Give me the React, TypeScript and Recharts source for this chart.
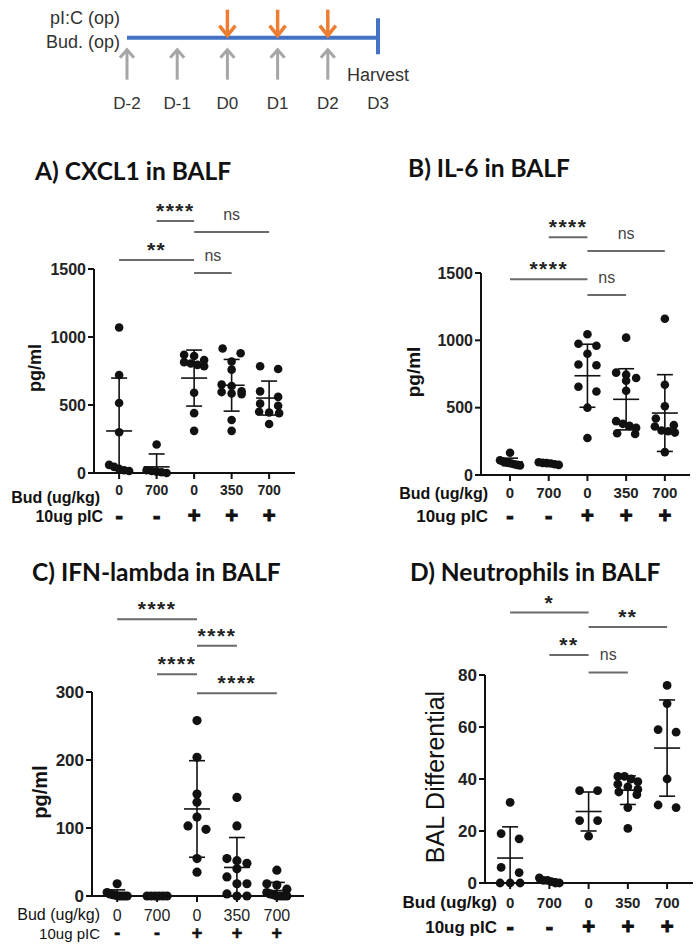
import React from 'react';
import { ScatterChart, Scatter, XAxis, YAxis, ReferenceLine, ReferenceDot, ErrorBar } from 'recharts';

// ---------- data ----------
const budDoses = ['0', '700', '0', '350', '700'];
const picSigns = ['-', '-', '+', '+', '+'];

const dayTicks = [-2, -1, 0, 1, 2, 3];
const dayLabels = ['D-2', 'D-1', 'D0', 'D1', 'D2', 'D3'];
const budDays = [-2, -1, 0, 1, 2];
const picDays = [0, 1, 2];
const harvestDay = 3;

// A) CXCL1 (pg/ml)
const cxcl1Points = [
  [1070, 720, 515, 300, 60, 45, 30, 20, 15],
  [210, 20, 15, 10, 5, 0],
  [870, 860, 830, 815, 805, 795, 785, 590, 440, 310],
  [915, 880, 820, 760, 650, 640, 600, 595, 585, 580, 390, 310],
  [785, 765, 600, 560, 510, 495, 450, 445, 440, 360],
];
const cxcl1Means = [309, 45, 698, 645, 551];
const cxcl1Sds = [389, 95, 206, 190, 125];
const cxcl1Sig = [
  { from: 1, to: 2, y: 1853, label: '****' },
  { from: 2, to: 4, y: 1772, label: 'ns' },
  { from: 0, to: 2, y: 1566, label: '**' },
  { from: 2, to: 3, y: 1471, label: 'ns' },
];

// B) IL-6 (pg/ml)
const il6Points = [
  [165, 110, 100, 95, 90, 85, 80, 75, 70],
  [95, 90, 88, 85, 80, 75],
  [1045, 975, 960, 900, 820, 815, 655, 620, 500, 275],
  [1020, 760, 745, 720, 700, 625, 400, 380, 365, 350, 310, 305],
  [1160, 670, 510, 420, 370, 360, 330, 325, 315, 170],
];
const il6Means = [97, 86, 737, 562, 460];
const il6Sds = [28, 7, 234, 227, 285];
const il6Sig = [
  { from: 1, to: 2, y: 1766, label: '****' },
  { from: 2, to: 4, y: 1664, label: 'ns' },
  { from: 0, to: 2, y: 1453, label: '****' },
  { from: 2, to: 3, y: 1336, label: 'ns' },
];

// C) IFN-lambda (pg/ml)
const ifnPoints = [
  [18, 5, 3, 2, 1, 0, 0, 0, 0],
  [0, 0, 0, 0, 0, 0],
  [258, 204, 150, 138, 116, 103, 98, 55, 35],
  [145, 103, 55, 52, 48, 40, 28, 18, 18, 3, 0, 0],
  [38, 18, 16, 10, 5, 3, 2, 0, 0, 0, 0],
];
const ifnMeans = [3, 0, 128, 42, 8];
const ifnSds = [6, 0, 71, 44, 12];
const ifnSig = [
  { from: 0, to: 2, y: 407, label: '****' },
  { from: 2, to: 3, y: 368, label: '****' },
  { from: 1, to: 2, y: 326, label: '****' },
  { from: 2, to: 4, y: 298, label: '****' },
];

// D) Neutrophils (BAL differential)
const neutPoints = [
  [31, 19, 17, 6, 4, 0, 0, 0],
  [2, 1, 1, 0.5, 0, 0],
  [35.5, 35.5, 24, 24, 18],
  [41, 41, 40, 39, 38, 37, 36, 35, 34, 29, 21],
  [76, 69, 59, 58, 40, 30, 29],
];
const neutMeans = [9.6, 0.8, 27.5, 35.7, 51.9];
const neutSds = [12, 0.8, 7.5, 5.5, 18.5];
const neutSig = [
  { from: 0, to: 2, y: 104, label: '*' },
  { from: 2, to: 4, y: 98.5, label: '**' },
  { from: 1, to: 2, y: 87.7, label: '**' },
  { from: 2, to: 3, y: 81, label: 'ns' },
];

// ---------- styling ----------
const FONT = '"Liberation Sans", Arial, sans-serif';
const TITLE_FONT = 'Lato, "Open Sans", sans-serif';
const INK = '#111';
const TICK_INK = '#222';
const SIG_LINE = '#6a6a6a';

type Sig = { from: number; to: number; y: number; label: string };
type Cfg = {
  left: number; top: number; width: number; height: number;
  margin: { top: number; right: number; bottom: number; left: number };
  yAxisWidth: number; xAxisHeight: number;
  xDomain: [number, number]; yMax: number; yTicks: number[];
  yTickSize: number; tickSize: number; tickWeight: number; tickDy: number;
  signSize: number; signDy: number; signStroke: number; dotR: number;
};

// Prism-like horizontal spreading of points that share similar values
function swarmOffsets(vals: number[], pxPerY: number, pxPerCat: number): number[] {
  const MAX_STEP = 18, MAX_WIDTH = 20, BIN_PX = 7;
  const order = vals.map((_, i) => i).sort((a, b) => vals[b] - vals[a]);
  const res = new Array(vals.length).fill(0);
  let bin: number[] = [];
  const flush = () => {
    const n = bin.length;
    const step = n > 1 ? Math.min(MAX_STEP, MAX_WIDTH / (n - 1)) : 0;
    bin.forEach((i, k) => { res[i] = ((k - (n - 1) / 2) * step) / pxPerCat; });
    bin = [];
  };
  for (const i of order) {
    if (bin.length && (vals[bin[0]] - vals[i]) * pxPerY > BIN_PX) flush();
    bin.push(i);
  }
  flush();
  return res;
}

function Txt(props: { x: number; y: number; size: number; weight?: number; anchor?: 'start' | 'middle' | 'end'; rotate?: boolean; family?: string; color?: string; children: React.ReactNode }) {
  const { x, y, size, weight = 400, anchor = 'start', rotate = false, family = FONT, color = INK, children } = props;
  const tx = anchor === 'start' ? '0' : anchor === 'middle' ? '-50%' : '-100%';
  const transform = rotate ? 'translate(-50%,-50%) rotate(-90deg)' : `translate(${tx}, -50%)`;
  return (
    <div style={{ position: 'absolute', left: x, top: y, transform, fontSize: size, fontWeight: weight, fontFamily: family, lineHeight: 1, whiteSpace: 'nowrap', color }}>
      {children}
    </div>
  );
}

function Panel({ c, groups, means, sds, sigs }: { c: Cfg; groups: number[][]; means: number[]; sds: number[]; sigs: Sig[] }) {
  const plotW = c.width - c.margin.left - c.margin.right - c.yAxisWidth;
  const plotH = c.height - c.margin.top - c.margin.bottom - c.xAxisHeight;
  const pxPerCat = plotW / (c.xDomain[1] - c.xDomain[0]);
  const pxPerY = plotH / c.yMax;
  const points = groups.flatMap((vals, g) => {
    const offs = swarmOffsets(vals, pxPerY, pxPerCat);
    return vals.map((v, i) => ({ x: g + offs[i], y: v }));
  });
  const meanData = means.map((m, g) => ({ x: g, y: m, err: [Math.min(sds[g], m), sds[g]] }));

  const dot = (p: any) => <circle cx={p.cx} cy={p.cy} r={c.dotR} fill={INK} />;
  const meanShape = (p: any) => <line x1={p.cx - 13} x2={p.cx + 13} y1={p.cy} y2={p.cy} stroke={INK} strokeWidth={1.6} />;
  const catTick = (p: any) => {
    const i = Math.round(p.payload.value);
    return (
      <g>
        <text x={p.x} y={p.y} dy={c.tickDy} textAnchor="middle" fontSize={c.tickSize} fontWeight={c.tickWeight} fill={TICK_INK} fontFamily={FONT}>{budDoses[i]}</text>
        <text x={p.x} y={p.y} dy={c.signDy} textAnchor="middle" fontSize={c.signSize} fontWeight={700} fill={INK} stroke={INK} strokeWidth={c.signStroke} fontFamily={FONT}>{picSigns[i]}</text>
      </g>
    );
  };

  return (
    <div style={{ position: 'absolute', left: c.left, top: c.top }}>
      <ScatterChart width={c.width} height={c.height} margin={c.margin}>
        <XAxis type="number" dataKey="x" domain={c.xDomain} ticks={[0, 1, 2, 3, 4]} interval={0}
          height={c.xAxisHeight} tick={catTick} tickSize={6}
          axisLine={{ stroke: INK, strokeWidth: 2 }} tickLine={{ stroke: INK, strokeWidth: 2 }} />
        <YAxis type="number" dataKey="y" domain={[0, c.yMax]} ticks={c.yTicks} interval={0}
          width={c.yAxisWidth} tickSize={6}
          tick={{ fontSize: c.yTickSize, fontWeight: 700, fill: TICK_INK, fontFamily: FONT }}
          axisLine={{ stroke: INK, strokeWidth: 2 }} tickLine={{ stroke: INK, strokeWidth: 2 }} />
        {sigs.map((s, k) => {
          const isNs = s.label === 'ns';
          return (
            <ReferenceLine key={k} segment={[{ x: s.from, y: s.y }, { x: s.to, y: s.y }]}
              stroke={SIG_LINE} strokeWidth={2} ifOverflow="visible"
              label={isNs
                ? { value: s.label, position: 'top', offset: 12, fontSize: 16, fill: '#444', fontFamily: FONT }
                : { value: s.label, position: 'top', offset: 3, fontSize: 21, fontWeight: 700, letterSpacing: 1.5, fill: '#222', fontFamily: FONT }} />
          );
        })}
        <Scatter data={points} shape={dot} isAnimationActive={false} />
        <Scatter data={meanData} shape={meanShape} isAnimationActive={false}>
          <ErrorBar dataKey="err" direction="y" width={8} stroke={INK} strokeWidth={1.6} isAnimationActive={false} />
        </Scatter>
      </ScatterChart>
    </div>
  );
}

const cfgA: Cfg = {
  left: 0, top: 195, width: 340, height: 333,
  margin: { top: 74, right: 45, bottom: 5, left: 0 }, yAxisWidth: 94, xAxisHeight: 50,
  xDomain: [-0.67, 4.69], yMax: 1500, yTicks: [0, 500, 1000, 1500],
  yTickSize: 16, tickSize: 14, tickWeight: 700, tickDy: 14, signSize: 22, signDy: 42, signStroke: 1, dotR: 4.3,
};
const cfgB: Cfg = {
  left: 350, top: 203, width: 348, height: 330,
  margin: { top: 70, right: 8, bottom: 5, left: 0 }, yAxisWidth: 131, xAxisHeight: 53,
  xDomain: [-0.75, 4.65], yMax: 1500, yTicks: [0, 500, 1000, 1500],
  yTickSize: 16, tickSize: 15, tickWeight: 700, tickDy: 15, signSize: 22, signDy: 40, signStroke: 1, dotR: 4.3,
};
const cfgC: Cfg = {
  left: 0, top: 590, width: 344, height: 356,
  margin: { top: 102, right: 40, bottom: 4, left: 0 }, yAxisWidth: 92, xAxisHeight: 46,
  xDomain: [-0.63, 4.68], yMax: 300, yTicks: [0, 100, 200, 300],
  yTickSize: 17, tickSize: 16, tickWeight: 400, tickDy: 16.5, signSize: 18, signDy: 35, signStroke: 0.6, dotR: 4.6,
};
const cfgD: Cfg = {
  left: 350, top: 590, width: 348, height: 356,
  margin: { top: 85, right: 5, bottom: 8, left: 0 }, yAxisWidth: 135, xAxisHeight: 55,
  xDomain: [-0.64, 4.66], yMax: 80, yTicks: [0, 20, 40, 60, 80],
  yTickSize: 17, tickSize: 15, tickWeight: 700, tickDy: 16.5, signSize: 22, signDy: 43, signStroke: 1, dotR: 4.4,
};

function Timeline() {
  const orange = (p: any) => {
    const { cx, cy } = p;
    const tip = cy - 1, tail = cy - 28;
    return (
      <g stroke="#ED7D31" strokeWidth={3.5} fill="none">
        <line x1={cx} y1={tail} x2={cx} y2={tip - 1} />
        <polyline points={`${cx - 8},${tip - 11} ${cx},${tip - 1} ${cx + 8},${tip - 11}`} />
      </g>
    );
  };
  const gray = (p: any) => {
    const { cx, cy } = p;
    const tip = cy + 11, tail = cy + 42;
    return (
      <g stroke="#A6A6A6" strokeWidth={3} fill="none">
        <line x1={cx} y1={tip + 1} x2={cx} y2={tail} />
        <polyline points={`${cx - 7},${tip + 9} ${cx},${tip + 1} ${cx + 7},${tip + 9}`} />
      </g>
    );
  };
  const dayTick = (p: any) => (
    <text x={p.x} y={p.y} dy={8} textAnchor="middle" fontSize={17} fill="#333" fontFamily={FONT}>
      {dayLabels[dayTicks.indexOf(p.payload.value)]}
    </text>
  );
  const lbl = (value: string, position: any, offset: number) => ({ value, position, offset, fontSize: 18, fill: '#333', fontFamily: FONT });
  return (
    <div style={{ position: 'absolute', left: 0, top: 0 }}>
      <ScatterChart width={700} height={115} margin={{ top: 10, right: 322, bottom: 0, left: 127 }}>
        <XAxis type="number" dataKey="x" domain={[-2, 3]} ticks={dayTicks} interval={0} height={22}
          axisLine={false} tickLine={false} tick={dayTick} />
        <YAxis type="number" dataKey="y" domain={[-2, 1]} hide width={0} />
        <ReferenceLine segment={[{ x: -2, y: 0 }, { x: harvestDay, y: 0 }]} stroke="#4472C4" strokeWidth={4} ifOverflow="visible" />
        <ReferenceLine segment={[{ x: harvestDay, y: 0.7 }, { x: harvestDay, y: -0.6 }]} stroke="#4472C4" strokeWidth={4} ifOverflow="visible" />
        <Scatter data={picDays.map((d) => ({ x: d, y: 0 }))} shape={orange} isAnimationActive={false} />
        <Scatter data={budDays.map((d) => ({ x: d, y: 0 }))} shape={gray} isAnimationActive={false} />
        <ReferenceDot x={-2} y={0.71} r={0} fill="none" stroke="none" label={lbl('pI:C (op)', 'left', 7)} />
        <ReferenceDot x={-2} y={-0.14} r={0} fill="none" stroke="none" label={lbl('Bud. (op)', 'left', 7)} />
        <ReferenceDot x={harvestDay} y={-1.35} r={0} fill="none" stroke="none" label={lbl('Harvest', 'center', 0)} />
      </ScatterChart>
    </div>
  );
}

export default function App() {
  return (
    <div style={{ position: 'absolute', left: 0, top: 0, width: 700, height: 946, background: '#fff', overflow: 'hidden' }}>
      <Timeline />

      <Txt x={35} y={171} size={24.5} weight={700} family={TITLE_FONT}>A) CXCL1 in BALF</Txt>
      <Txt x={408} y={168} size={24.5} weight={700} family={TITLE_FONT}>B) IL-6 in BALF</Txt>
      <Txt x={32} y={572} size={24.5} weight={700} family={TITLE_FONT}>C) IFN-lambda in BALF</Txt>
      <Txt x={410} y={572} size={24.5} weight={700} family={TITLE_FONT}>D) Neutrophils in BALF</Txt>

      <Panel c={cfgA} groups={cxcl1Points} means={cxcl1Means} sds={cxcl1Sds} sigs={cxcl1Sig} />
      <Panel c={cfgB} groups={il6Points} means={il6Means} sds={il6Sds} sigs={il6Sig} />
      <Panel c={cfgC} groups={ifnPoints} means={ifnMeans} sds={ifnSds} sigs={ifnSig} />
      <Panel c={cfgD} groups={neutPoints} means={neutMeans} sds={neutSds} sigs={neutSig} />

      <Txt x={35} y={368} size={18} weight={700} rotate>pg/ml</Txt>
      <Txt x={413} y={372} size={19} weight={700} rotate>pg/ml</Txt>
      <Txt x={40} y={792} size={20} weight={700} rotate>pg/ml</Txt>
      <Txt x={435} y={777} size={25} weight={400} rotate>BAL Differential</Txt>

      <Txt x={100} y={498} size={16} weight={700} anchor="end">Bud (ug/kg)</Txt>
      <Txt x={103} y={517} size={16} weight={700} anchor="end">10ug pIC</Txt>
      <Txt x={488} y={494} size={16} weight={700} anchor="end">Bud (ug/kg)</Txt>
      <Txt x={488} y={516} size={17} weight={700} anchor="end">10ug pIC</Txt>
      <Txt x={100} y={915} size={16} weight={400} anchor="end">Bud (ug/kg)</Txt>
      <Txt x={100} y={933} size={15} weight={400} anchor="end">10ug pIC</Txt>
      <Txt x={497} y={902} size={17} weight={700} anchor="end">Bud (ug/kg)</Txt>
      <Txt x={497} y={927} size={17} weight={700} anchor="end">10ug pIC</Txt>
    </div>
  );
}
